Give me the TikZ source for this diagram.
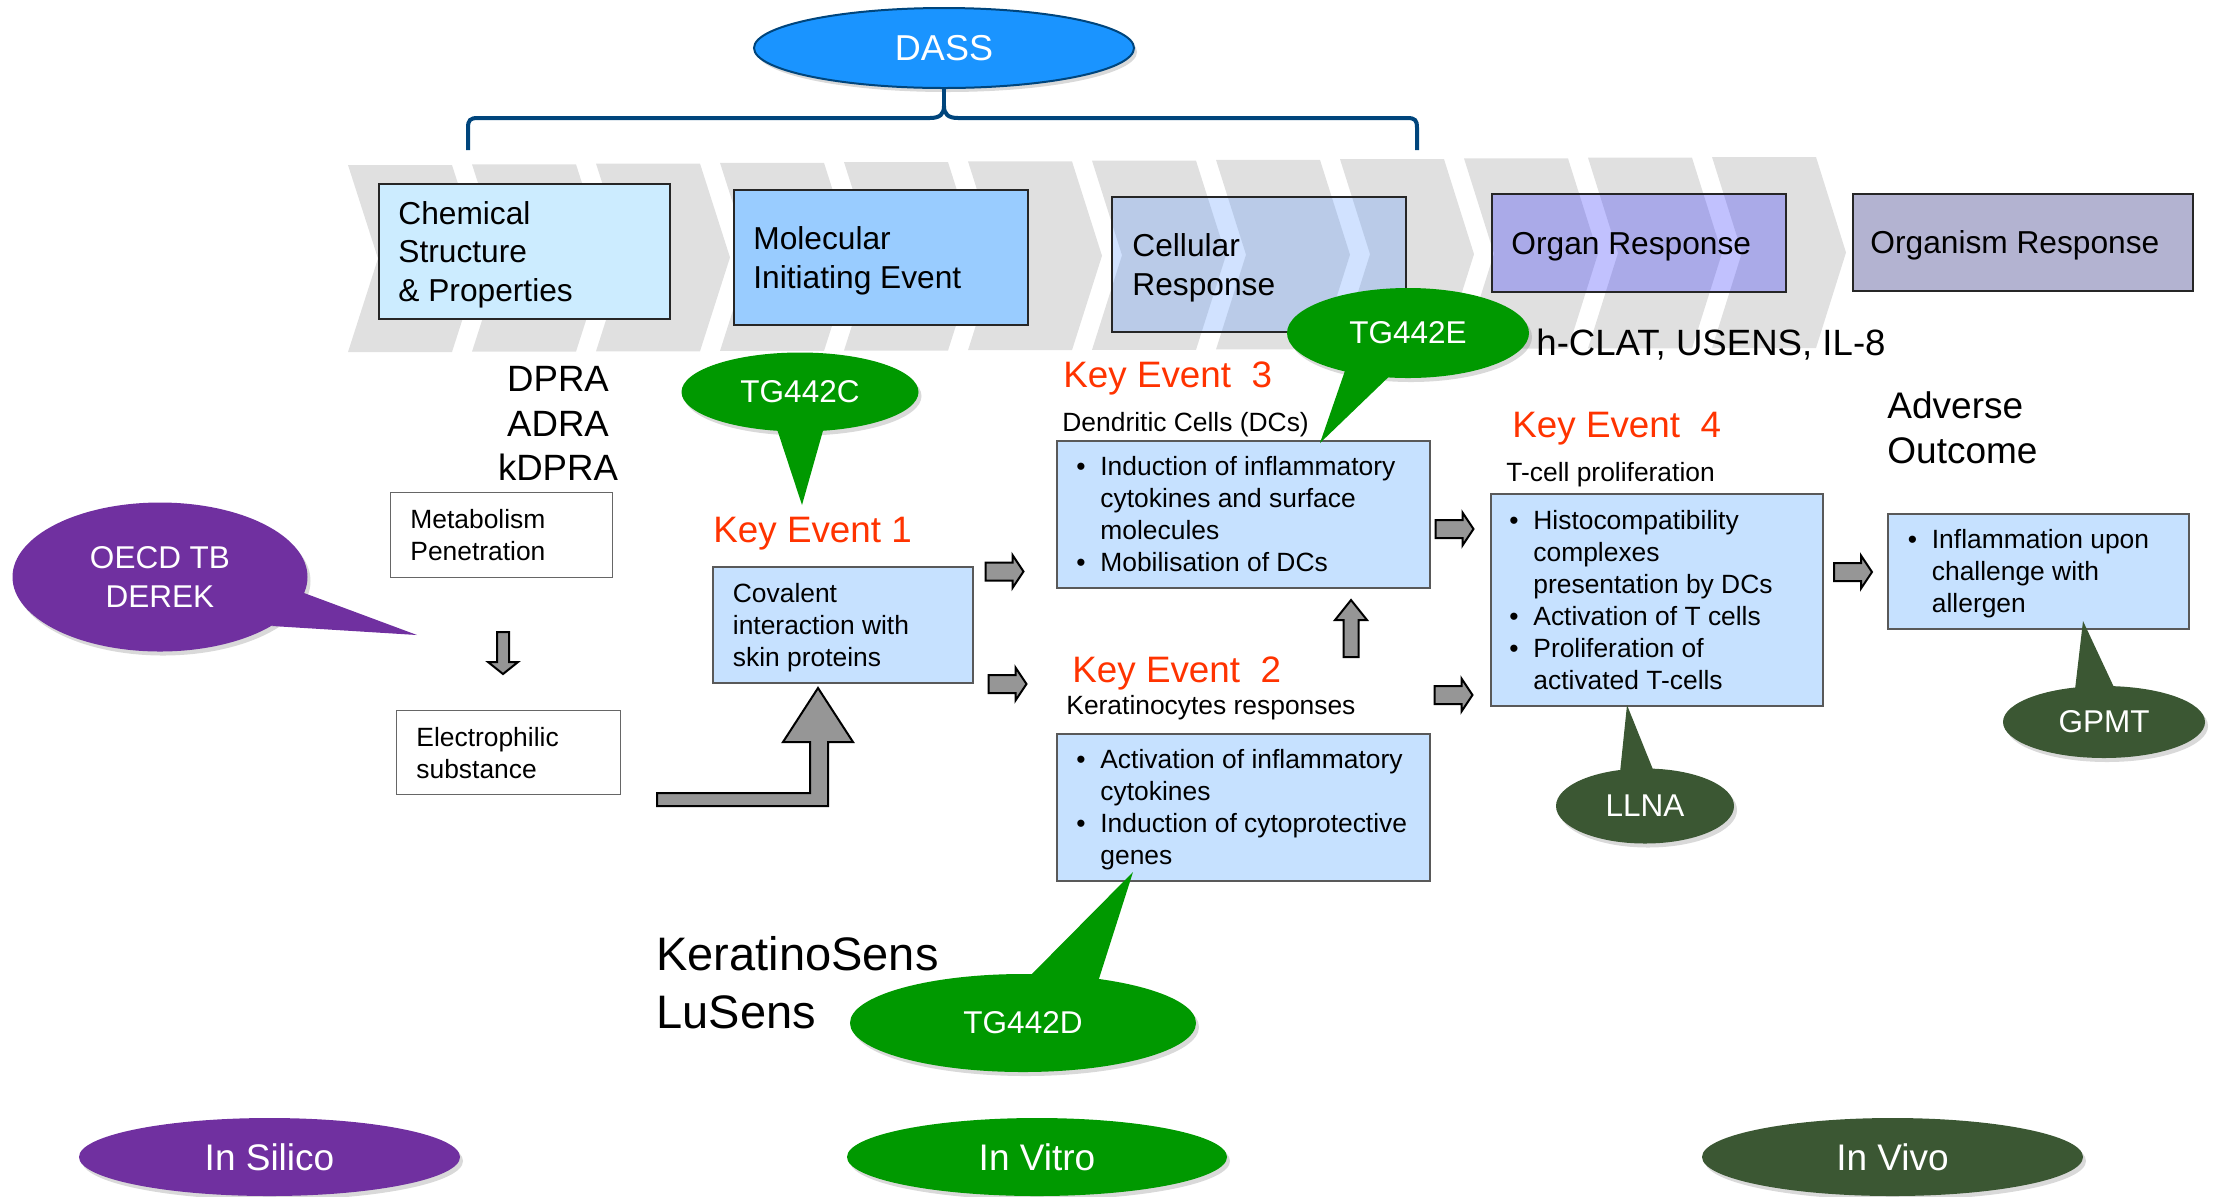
\documentclass[tikz,border=0pt]{standalone}
\usepackage{fontspec}
\setmainfont{Liberation Sans}
\usetikzlibrary{shapes.geometric,shadows,calc}

\definecolor{chev}{RGB}{224,224,224}
\definecolor{chemfill}{RGB}{204,236,255}
\definecolor{molfill}{RGB}{153,204,255}
\definecolor{cellfill}{RGB}{96,155,255}
\definecolor{organfill}{RGB}{41,41,252}
\definecolor{orgsmfill}{RGB}{179,179,209}
\definecolor{kefill}{RGB}{198,225,255}
\definecolor{kered}{RGB}{255,51,0}
\definecolor{tggreen}{RGB}{0,153,0}
\definecolor{vivogreen}{RGB}{59,87,51}
\definecolor{silpurple}{RGB}{112,48,160}
\definecolor{dassblue}{RGB}{26,148,255}
\definecolor{navy}{RGB}{0,69,124}
\definecolor{arrgray}{RGB}{150,150,150}

\newcommand\fs[2]{\fontsize{#1}{#2}\selectfont}
\newcommand\bli{\makebox[12pt][l]{\textbullet}}
\newcommand\bin{\hspace*{12pt}}

\tikzset{
  topbox/.style={draw=black!85, line width=1pt, anchor=north west, inner sep=0pt},
  kebox/.style={draw=black!65, line width=0.8pt, fill=kefill, anchor=north west, inner sep=0pt},
  wbox/.style={draw=black!60, line width=0.7pt, fill=white, anchor=north west, inner sep=0pt},
  toptext/.style={anchor=west, inner sep=0pt, align=left, text depth=0pt, font=\fs{15.85pt}{19.25pt}},
  smtext/.style={anchor=west, inner sep=0pt, align=left, text depth=0pt, font=\fs{13.2pt}{16pt}},
  bigtext/.style={anchor=base west, inner sep=0pt, font=\fs{18.3pt}{22pt}},
  ketitle/.style={anchor=base west, inner sep=0pt, text=kered, font=\fs{18.4pt}{22pt}},
  subtitle/.style={anchor=base west, inner sep=0pt, font=\fs{13.2pt}{16pt}},
  bubble/.style={ellipse, inner sep=0pt, text=white, align=center,
    font=\fs{15.75pt}{19.5pt},
    drop shadow={shadow xshift=1.5pt, shadow yshift=-2pt, opacity=0.3}},
  blk/.style={fill=arrgray, draw=black, line width=1pt, line join=miter},
  brace/.style={draw=navy, line width=2pt},
}

\newcommand\barR[2]{%
  \draw[blk] (#1-19,#2-9) -- (#1+8,#2-9) -- (#1+8,#2-16.5) -- (#1+19,#2)
    -- (#1+8,#2+16.5) -- (#1+8,#2+9) -- (#1-19,#2+9) -- cycle;}

\begin{document}
\begin{tikzpicture}[x=0.5pt,y=-0.5pt]
\useasboundingbox (0,0) rectangle (2215,1196);

% chevron band
\foreach \k in {0,...,11}{
  \pgfmathsetmacro\xl{348+124*\k}
  \pgfmathsetmacro\xr{452+124*\k}
  \pgfmathsetmacro\yt{165-8*\k/11}
  \pgfmathsetmacro\yb{352-4*\k/11}
  \pgfmathsetmacro\ym{(\yt+\yb)/2}
  \fill[chev] (\xl,\yt) -- (\xr,\yt) -- (\xr+30,\ym) -- (\xr,\yb) -- (\xl,\yb) -- (\xl+30,\ym) -- cycle;
}

% top level boxes
\node[topbox, fill=chemfill, minimum width=145.5pt, minimum height=67.5pt] (chem) at (378,183) {};
\node[toptext] (chemt) at ([xshift=10pt]chem.west) {Chemical\\Structure\\\& Properties};
\node[topbox, fill=molfill, minimum width=147pt, minimum height=67.5pt] (mol) at (733,189) {};
\node[toptext] (molt) at ([xshift=10pt]mol.west) {Molecular\\Initiating Event};
\node[topbox, fill=cellfill, fill opacity=0.29, draw opacity=1, minimum width=147pt, minimum height=67.5pt] (cell) at (1111,196) {};
\node[toptext] (cellt) at ([xshift=10.5pt]cell.west) {Cellular\\Response};
\node[topbox, fill=organfill, fill opacity=0.29, minimum width=147pt, minimum height=49pt] (organ) at (1491,193) {};
\node[toptext] (organt) at ([xshift=10pt]organ.west) {Organ Response};
\node[topbox, fill=orgsmfill, minimum width=170pt, minimum height=48.5pt] (orgsm) at (1852,193) {};
\node[toptext] (orgsmt) at ([xshift=9pt]orgsm.west) {Organism Response};

% DASS and brace
\node[bubble, fill=dassblue, draw=navy, line width=1pt, minimum width=190pt, minimum height=40pt, font=\fs{18pt}{22pt}] (dass) at (944,48) {DASS};
\coordinate (bl) at (468,150);
\coordinate (br) at (1417,150);
\coordinate (bc) at (944,106);
\draw[brace] (bl) -- (468,128) .. controls (468,120) and (470,118) .. (478,118) -- (930,118)
  .. controls (940,118) and (944,114) .. (bc)
  .. controls (944,114) and (948,118) .. (958,118) -- (1407,118)
  .. controls (1415,118) and (1417,120) .. (1417,128) -- (br);
\draw[brace] (bc) -- (dass.south);

% in silico side
\node[bigtext, anchor=base] (dpra) at (558,391) {DPRA};
\node[bigtext, anchor=base] (adra) at (558,436) {ADRA};
\node[bigtext, anchor=base] (kdpra) at (558,480) {kDPRA};
\node[wbox, minimum width=111pt, minimum height=42.5pt] (meta) at (390,492) {};
\node[smtext] (metat) at ([xshift=10pt]meta.west) {Metabolism\\Penetration};
\node[wbox, minimum width=112pt, minimum height=42pt] (elec) at (396,710) {};
\node[smtext] (elect) at ([xshift=10pt]elec.west) {Electrophilic\\substance};
\draw[blk] (497,632) -- (509,632) -- (509,662) -- (518,662) -- (503,674) -- (488,662) -- (497,662) -- cycle;

% Key event 1
\node[ketitle] (ke1) at (713,542.5) {Key Event 1};
\node[kebox, minimum width=130pt, minimum height=58pt] (ke1box) at (712,566) {};
\node[smtext] (ke1t) at ([xshift=10.25pt]ke1box.west) {Covalent\\interaction with\\skin proteins};
\draw[blk] (657,793) -- (810,793) -- (810,742) -- (783,742) -- (818,688) -- (853,742) -- (828,742) -- (828,806) -- (657,806) -- cycle;

% Key event 3
\node[ketitle] (ke3) at (1063,387) {Key Event\ \ 3};
\node[subtitle] (ke3s) at (1062,431) {Dendritic Cells (DCs)};
\node[kebox, minimum width=186.5pt, minimum height=73.5pt] (ke3box) at (1056,440) {};
\node[smtext] (ke3t) at ([xshift=10pt]ke3box.west) {\bli Induction of inflammatory\\\bin cytokines and surface\\\bin molecules\\\bli Mobilisation of DCs};

% Key event 2
\node[ketitle] (ke2) at (1072,682) {Key Event\ \ 2};
\node[subtitle] (ke2s) at (1066,714) {Keratinocytes responses};
\node[kebox, minimum width=186.5pt, minimum height=73.5pt] (ke2box) at (1056,733) {};
\node[smtext] (ke2t) at ([xshift=10pt]ke2box.west) {\bli Activation of inflammatory\\\bin cytokines\\\bli Induction of cytoprotective\\\bin genes};

% Key event 4
\node[ketitle] (ke4) at (1512,437) {Key Event\ \ 4};
\node[subtitle] (ke4s) at (1506,481) {T-cell proliferation};
\node[kebox, minimum width=166pt, minimum height=106pt] (ke4box) at (1490,493) {};
\node[smtext] (ke4t) at ([xshift=9.5pt]ke4box.west) {\bli Histocompatibility\\\bin complexes\\\bin presentation by DCs\\\bli Activation of T cells\\\bli Proliferation of\\\bin activated T-cells};

% Adverse outcome
\node[bigtext, font=\fs{18.5pt}{22pt}] (ao1) at (1887,418.6) {Adverse};
\node[bigtext, font=\fs{18.5pt}{22pt}] (ao2) at (1887,463) {Outcome};
\node[kebox, minimum width=150.5pt, minimum height=57.5pt] (aobox) at (1887,513) {};
\node[smtext] (aot) at ([xshift=10.25pt]aobox.west) {\bli Inflammation upon\\\bin challenge with\\\bin allergen};

% block arrows
\barR{1004.5}{571.5}
\barR{1007.5}{684}
\barR{1454.5}{529}
\barR{1453.5}{695}
\barR{1853}{572}
\draw[blk] (1343.5,657) -- (1343.5,620) -- (1335,620) -- (1351,600) -- (1367,620) -- (1358.5,620) -- (1358.5,657) -- cycle;

% other labels
\node[bigtext] (hclat) at (1536,355) {h-CLAT, USENS, IL-8};
\node[anchor=base west, inner sep=0pt, font=\fs{23.5pt}{29pt}] (ksens) at (656,970) {KeratinoSens};
\node[anchor=base west, inner sep=0pt, font=\fs{23.5pt}{29pt}] (lusens) at (656,1028) {LuSens};

% callouts
\node[bubble, fill=silpurple, minimum width=147.5pt, minimum height=74.5pt] (oecd) at (160,577) {OECD TB\\DEREK};
\coordinate (oecdtip) at (417,635);
\fill[silpurple] (296,590) -- (oecdtip) -- (272,626) -- cycle;

\node[bubble, fill=tggreen, minimum width=118.5pt, minimum height=39.5pt] (tgc) at (800,392) {TG442C};
\coordinate (tgctip) at (802,505);
\fill[tggreen] (774,420) -- (tgctip) -- (826,420) -- cycle;

\node[bubble, fill=tggreen, minimum width=121pt, minimum height=45pt] (tge) at (1408,333) {TG442E};
\coordinate (tgetip) at (1320,443);
\fill[tggreen] (1348,362) -- (tgetip) -- (1400,366) -- cycle;

\node[bubble, fill=tggreen, minimum width=173pt, minimum height=49pt] (tgd) at (1023,1023) {TG442D};
\coordinate (tgdtip) at (1133,872);
\fill[tggreen] (1018,988) -- (tgdtip) -- (1096,988) -- cycle;

\node[bubble, fill=vivogreen, minimum width=89pt, minimum height=37.5pt] (llna) at (1645,806) {LLNA};
\coordinate (llnatip) at (1627,705);
\fill[vivogreen] (1619,782) -- (llnatip) -- (1658,782) -- cycle;

\node[bubble, fill=vivogreen, minimum width=101pt, minimum height=36pt] (gpmt) at (2104,722) {GPMT};
\coordinate (gpmttip) at (2083,621);
\fill[vivogreen] (2074,698) -- (gpmttip) -- (2119,698) -- cycle;

% bottom categories
\node[bubble, fill=silpurple, minimum width=190.5pt, minimum height=39pt, font=\fs{18.5pt}{22pt}] (silico) at (269.5,1157) {In Silico};
\node[bubble, fill=tggreen, minimum width=190pt, minimum height=39pt, font=\fs{18.5pt}{22pt}] (vitro) at (1037,1157) {In Vitro};
\node[bubble, fill=vivogreen, minimum width=190.5pt, minimum height=39pt, font=\fs{18.5pt}{22pt}] (vivo) at (1892.5,1157) {In Vivo};
\end{tikzpicture}
\end{document}
